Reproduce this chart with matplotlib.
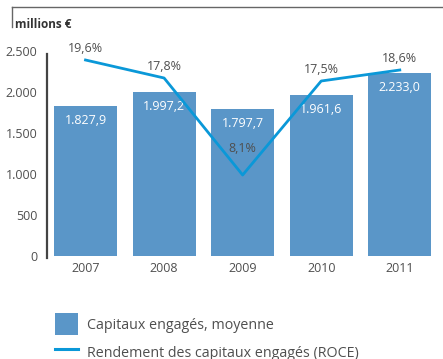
import matplotlib
matplotlib.use("Agg")
import matplotlib.pyplot as plt
from matplotlib.lines import Line2D
from matplotlib.patches import Patch

plt.rcParams["font.family"] = ["Open Sans", "DejaVu Sans"]

years = ["2007", "2008", "2009", "2010", "2011"]
capital = [1827.9, 1997.2, 1797.7, 1961.6, 2233.0]
roce = [19.6, 17.8, 8.1, 17.5, 18.6]
yticks = [0, 500, 1000, 1500, 2000, 2500]

BAR = "#5a96c8"
LINE = "#0a98d8"
TXT = "#4f4f4f"


def fmt_num(v, dec=1):
    s = f"{v:,.{dec}f}"
    return s.replace(",", "X").replace(".", ",").replace("X", ".")


W, H = 443, 359
fig = plt.figure(figsize=(W / 100, H / 100), dpi=100)
ax = fig.add_axes([47 / W, 1 - 258 / H, 1 - 47 / W, 207 / H])

x = list(range(len(years)))
ax.bar(x, capital, width=0.8, color=BAR, zorder=2)
ax.set_xlim(-0.49, 4.55)
ax.set_ylim(-24, 2500)

for xi, v in zip(x, capital):
    ax.annotate(fmt_num(v), (xi, v), xytext=(0, -10.5), textcoords="offset points",
                ha="center", va="center", color="white", fontsize=9, zorder=4)

ax.set_yticks(yticks)
ax.set_yticklabels([fmt_num(t, 0) for t in yticks])
ax.set_xticks(x)
ax.set_xticklabels(years)
ax.tick_params(axis="both", length=0, labelsize=9, colors=TXT)
ax.tick_params(axis="y", pad=7)
ax.tick_params(axis="x", pad=3)
for s in ["top", "right", "bottom"]:
    ax.spines[s].set_visible(False)
ax.spines["left"].set_color("#444444")
ax.spines["left"].set_linewidth(1.6)
ax.spines["left"].set_bounds(-24, 2465)

ax2 = ax.twinx()
ax2.set_ylim(-0.2, 20.5)
ax2.plot(x, roce, color=LINE, lw=2.0, zorder=3)
ax2.axis("off")
for xi, v in zip(x, roce):
    off = 19 if v < 10 else 8.5
    ax2.annotate(fmt_num(v) + "%", (xi, v), xytext=(0, off), textcoords="offset points",
                 ha="center", va="center", color=TXT, fontsize=9)

# frame line at top
fig.add_artist(Line2D([12 / W, 1], [1 - 7 / H, 1 - 7 / H], color="#666666", lw=1.0))
fig.add_artist(Line2D([12 / W, 12 / W], [1 - 7 / H, 1 - 27 / H], color="#666666", lw=1.0))
fig.text(15 / W, 1 - 25 / H, "millions €", fontsize=8.5, fontweight="bold",
         color="#333333", va="center", ha="left")

handles = [Patch(facecolor=BAR, edgecolor="none"), Line2D([], [], color=LINE, lw=2.2)]
labels = ["Capitaux engagés, moyenne", "Rendement des capitaux engagés (ROCE)"]
leg = fig.legend(handles, labels, loc="upper left", bbox_to_anchor=(55 / W, 1 - 313 / H),
                 frameon=False, borderpad=0, borderaxespad=0, fontsize=10.3,
                 handlelength=1.6, handleheight=2.0, handletextpad=0.65,
                 labelspacing=0.45)
for t in leg.get_texts():
    t.set_color(TXT)

fig.savefig("out.png", dpi=100)
